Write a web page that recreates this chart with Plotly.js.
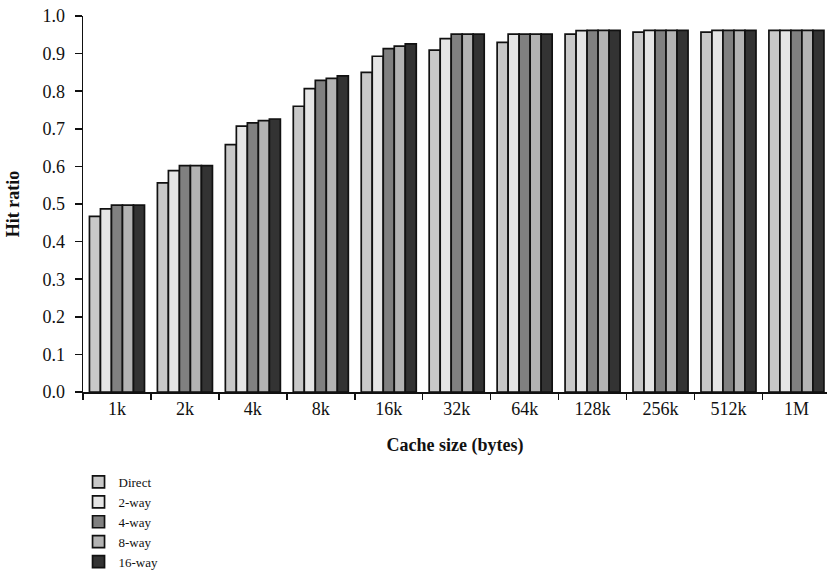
<!DOCTYPE html>
<html>
<head>
<meta charset="utf-8">
<script src="https://cdn.plot.ly/plotly-3.0.1.min.js"></script>
<style>html,body{margin:0;padding:0;background:#fff;}#chart{width:827px;height:578px;}</style>
</head>
<body>
<div id="chart"></div>
<script>
const categories = ["1k","2k","4k","8k","16k","32k","64k","128k","256k","512k","1M"];
const seriesNames = ["Direct","2-way","4-way","8-way","16-way"];
const direct = [0.467,0.556,0.658,0.760,0.850,0.909,0.930,0.952,0.957,0.957,0.962];
const way2   = [0.487,0.589,0.707,0.807,0.893,0.940,0.952,0.961,0.962,0.962,0.962];
const way4   = [0.497,0.602,0.716,0.829,0.913,0.952,0.952,0.962,0.962,0.962,0.962];
const way8   = [0.497,0.602,0.722,0.834,0.920,0.952,0.952,0.962,0.962,0.962,0.962];
const way16  = [0.497,0.602,0.726,0.841,0.926,0.952,0.952,0.962,0.962,0.962,0.962];
const yTicks = [0,0.1,0.2,0.3,0.4,0.5,0.6,0.7,0.8,0.9,1.0];

const colors = ["#c8c8c8","#e5e5e5","#808080","#b3b3b3","#333333"];
const allSeries = [direct, way2, way4, way8, way16];

const serif = "Liberation Serif, Times New Roman, serif";
const traces = allSeries.map((vals, i) => ({
  type: "bar",
  name: seriesNames[i],
  x: categories,
  y: vals,
  marker: {color: colors[i], line: {color: "#111111", width: 1.7}}
}));

const layout = {
  width: 827, height: 578,
  margin: {l: 83, r: 0, t: 16, b: 186},
  paper_bgcolor: "#ffffff", plot_bgcolor: "#ffffff",
  barmode: "group", bargap: 0.19, bargroupgap: 0,
  font: {family: serif, color: "#111111"},
  xaxis: {
    type: "category",
    range: [-0.5, 10.45],
    tickson: "boundaries",
    ticks: "outside", ticklen: 6, tickwidth: 1.5, tickcolor: "#111",
    showline: true, linecolor: "#111", linewidth: 1.5,
    showgrid: false, zeroline: false,
    tickfont: {family: serif, size: 18, color: "#111"},
    title: {text: "<b>Cache size (bytes)</b>", font: {family: serif, size: 18, color: "#111"}, standoff: 20}
  },
  yaxis: {
    range: [0, 1.0],
    tickvals: yTicks,
    tickformat: ".1f",
    ticks: "outside", ticklen: 7, tickwidth: 1.5, tickcolor: "#111",
    ticklabelstandoff: 6,
    showline: true, linecolor: "#111", linewidth: 1.5,
    showgrid: false, zeroline: false,
    automargin: true,
    tickfont: {family: serif, size: 18, color: "#111"},
    title: {text: "<b>Hit ratio</b>", font: {family: serif, size: 18, color: "#111"}, standoff: 18}
  },
  showlegend: true,
  legend: {
    orientation: "v",
    xref: "paper", yref: "container",
    x: -0.006, xanchor: "left",
    y: 0.192, yanchor: "top",
    traceorder: "normal",
    font: {family: serif, size: 13, color: "#111"},
    bgcolor: "rgba(0,0,0,0)"
  }
};

Plotly.newPlot("chart", traces, layout, {displayModeBar: false, staticPlot: true});
</script>
</body>
</html>
